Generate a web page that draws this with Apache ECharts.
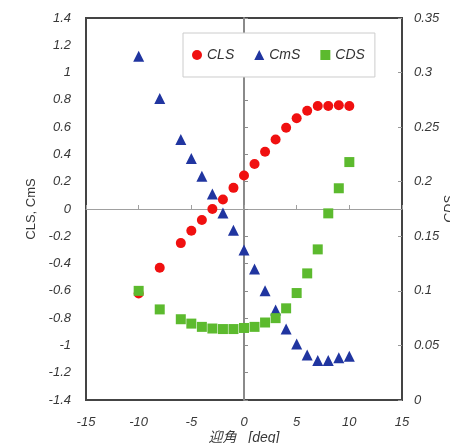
<!DOCTYPE html>
<html>
<head>
<meta charset="utf-8">
<script src="https://cdn.jsdelivr.net/npm/echarts@6/dist/echarts.min.js"></script>
<style>
html,body{margin:0;padding:0;background:#fff;}
#chart{width:450px;height:443px;}
</style>
</head>
<body>
<div id="chart"></div>
<script>
// Angle of attack [deg]
var angles = [-10, -8, -6, -5, -4, -3, -2, -1, 0, 1, 2, 3, 4, 5, 6, 7, 8, 9, 10];
// Lift coefficient (left axis)
var CLS = [-0.62, -0.43, -0.25, -0.16, -0.08, 0.0, 0.07, 0.155, 0.245, 0.33, 0.42, 0.51, 0.595, 0.665, 0.72, 0.755, 0.755, 0.76, 0.755];
// Pitching moment coefficient (left axis)
var CmS = [1.12, 0.81, 0.51, 0.37, 0.24, 0.11, -0.03, -0.155, -0.30, -0.44, -0.60, -0.74, -0.88, -0.99, -1.07, -1.11, -1.11, -1.09, -1.08];
// Drag coefficient (right axis)
var CDS = [0.100, 0.083, 0.074, 0.070, 0.067, 0.0655, 0.065, 0.065, 0.066, 0.067, 0.071, 0.075, 0.084, 0.098, 0.116, 0.138, 0.171, 0.194, 0.218];
var seriesNames = ['CLS', 'CmS', 'CDS'];
var xAxisName = '迎角   [deg]';
var leftAxisName = 'CLS, CmS';
var rightAxisName = 'CDS';

function pairs(ys) { return angles.map(function (a, i) { return [a, ys[i]]; }); }

var FONT = "'Liberation Sans', 'Noto Sans CJK JP', sans-serif";
var labelStyle = { fontFamily: FONT, fontStyle: 'italic', fontSize: 13, color: '#383838' };

var chart = echarts.init(document.getElementById('chart'), null, { renderer: 'canvas' });
chart.setOption({
  animation: false,
  backgroundColor: '#fff',
  grid: { left: 86, right: 48, top: 18, bottom: 43, containLabel: false, outerBoundsMode: 'none', show: true, borderColor: '#444', borderWidth: 2, backgroundColor: 'transparent' },
  legend: {
    data: seriesNames,
    left: 183, top: 33,
    orient: 'horizontal',
    padding: [15, 10, 15, 9],
    itemGap: 20,
    itemWidth: 10, itemHeight: 10,
    backgroundColor: '#fff',
    borderColor: '#ccc', borderWidth: 1,
    textStyle: { fontFamily: FONT, fontStyle: 'italic', fontSize: 14, color: '#333' }
  },
  xAxis: [
    {
      type: 'value', min: -15, max: 15, interval: 5, position: 'bottom',
      axisLine: { show: false, onZero: false },
      axisTick: { show: false },
      splitLine: { show: false },
      axisLabel: Object.assign({ margin: 16 }, labelStyle),
      name: xAxisName, nameLocation: 'middle', nameGap: 31, nameMoveOverlap: false,
      nameTextStyle: { fontFamily: FONT, fontStyle: 'italic', fontSize: 14, color: '#383838' }
    },
    {
      type: 'value', min: -15, max: 15, interval: 5, position: 'bottom',
      axisLine: { show: true, onZero: true, onZeroAxisIndex: 0, lineStyle: { color: '#a0a0a0', width: 1 } },
      axisTick: { show: true, inside: true, length: 4, lineStyle: { color: '#a0a0a0' } },
      axisLabel: { show: false },
      splitLine: { show: false }
    }
  ],
  yAxis: [
    {
      type: 'value', min: -1.4, max: 1.4, interval: 0.2, position: 'left',
      axisLine: { show: false, onZero: false },
      axisTick: { show: false },
      splitLine: { show: false },
      axisLabel: Object.assign({ margin: 15 }, labelStyle),
      name: leftAxisName, nameLocation: 'middle', nameGap: 48, nameRotate: 90, nameMoveOverlap: false,
      nameTextStyle: { fontFamily: FONT, fontSize: 13, color: '#383838' }
    },
    {
      type: 'value', min: 0, max: 0.35, interval: 0.05, position: 'right',
      axisLine: { show: true, onZero: false, lineStyle: { color: '#444', width: 2 } },
      axisTick: { show: true, inside: true, length: 4, lineStyle: { color: '#999' } },
      splitLine: { show: false },
      axisLabel: Object.assign({ margin: 12 }, labelStyle),
      name: rightAxisName, nameLocation: 'middle', nameGap: 41, nameRotate: 90, nameMoveOverlap: false,
      nameTextStyle: { fontFamily: FONT, fontStyle: 'italic', fontSize: 13, color: '#383838' }
    },
    {
      type: 'value', min: -1.4, max: 1.4, interval: 0.2, position: 'left',
      axisLine: { show: true, onZero: true, onZeroAxisIndex: 0, lineStyle: { color: '#8a8a8a', width: 2 } },
      axisTick: { show: true, inside: true, length: 4, lineStyle: { color: '#8a8a8a' } },
      axisLabel: { show: false },
      splitLine: { show: false }
    }
  ],
  series: [
    {
      name: seriesNames[0], type: 'scatter', xAxisIndex: 0, yAxisIndex: 0,
      symbol: 'circle', symbolSize: 10,
      itemStyle: { color: '#f01010', opacity: 1 },
      data: pairs(CLS)
    },
    {
      name: seriesNames[1], type: 'scatter', xAxisIndex: 0, yAxisIndex: 0,
      symbol: 'triangle', symbolSize: 11,
      itemStyle: { color: '#2035a0', opacity: 1 },
      data: pairs(CmS)
    },
    {
      name: seriesNames[2], type: 'scatter', xAxisIndex: 0, yAxisIndex: 1,
      symbol: 'rect', symbolSize: 10,
      itemStyle: { color: '#5cba2e', opacity: 1 },
      data: pairs(CDS)
    }
  ]
});
</script>
</body>
</html>
